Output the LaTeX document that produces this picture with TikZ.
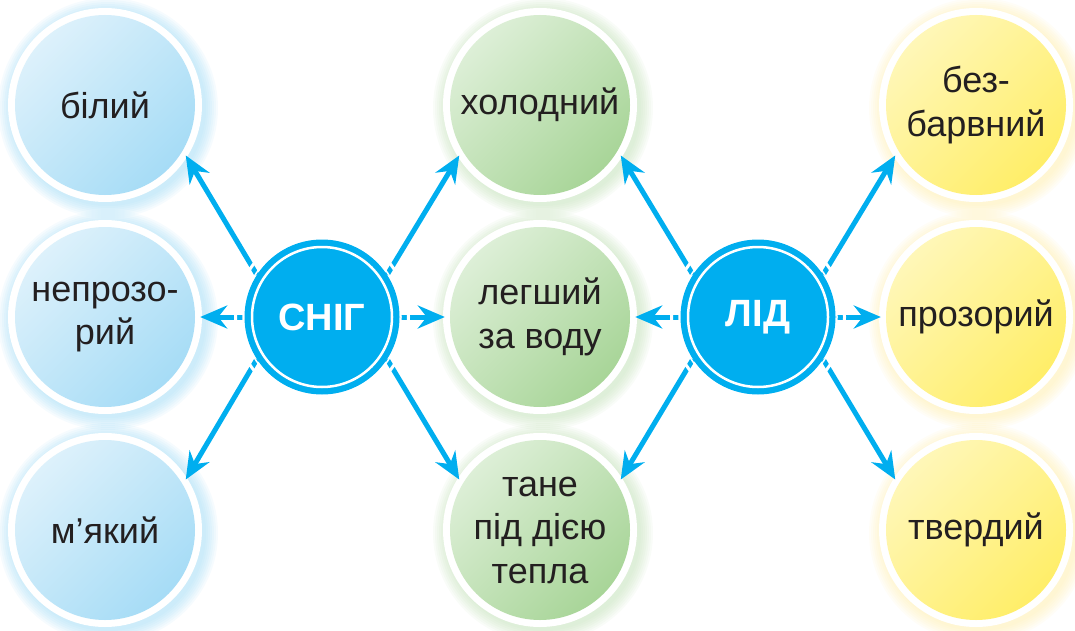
\documentclass[tikz,border=0pt]{standalone}
\usepackage{fontspec}
\setmainfont{Liberation Sans}
\usetikzlibrary{arrows.meta}
\definecolor{hubcyan}{HTML}{00AEEF}
\definecolor{txt}{HTML}{231F20}
\definecolor{bluelight}{HTML}{DDF1FB}
\definecolor{bluedark}{HTML}{A6DCF6}
\definecolor{blueglow}{HTML}{8AD2F3}
\definecolor{greenlight}{HTML}{DDEFD7}
\definecolor{greendark}{HTML}{A8D598}
\definecolor{greenglow}{HTML}{B3D9A6}
\definecolor{yellowlight}{HTML}{FFF7B8}
\definecolor{yellowdark}{HTML}{FFEE68}
\definecolor{yellowglow}{HTML}{FFE999}
\newcommand\Sat[6]{%
  \foreach \rr in {110,108,...,98} {\fill[#5,opacity=0.08,shift={(3,3)}] (#2) circle[radius=\rr pt];}
  \fill[white] (#2) circle[radius=97pt];
  \shade[top color=#3,bottom color=#4,shading angle=45] (#2) circle[radius=90pt];
  \node[sat] (#1) at (#2) {#6};
}
\begin{document}
\begin{tikzpicture}[x=1pt,y=-1pt,
  sat/.style={circle,minimum size=190pt,inner sep=0pt,align=center,text=txt,
    font=\fontsize{36}{43.5}\selectfont},
  hub/.style={circle,fill=hubcyan,minimum size=155pt,inner sep=0pt,text=white,
    font=\bfseries\fontsize{38}{40}\selectfont},
  arr/.style={hubcyan,line width=5pt,-{Stealth[length=27pt,width=23pt,inset=9pt]}}]
\useasboundingbox (0,0) rectangle (1075,631);
% satellites
\Sat{bil}{105,105}{bluelight}{bluedark}{blueglow}{білий}
\Sat{nep}{105,317}{bluelight}{bluedark}{blueglow}{непрозо-\\рий}
\Sat{myak}{105,530}{bluelight}{bluedark}{blueglow}{м’який}
\Sat{hol}{540,105}{greenlight}{greendark}{greenglow}{холодний}
\Sat{leg}{540,317}{greenlight}{greendark}{greenglow}{легший\\за воду}
\Sat{tane}{540,530}{greenlight}{greendark}{greenglow}{тане\\під дією\\тепла}
\Sat{bez}{976,105}{yellowlight}{yellowdark}{yellowglow}{без-\\барвний}
\Sat{proz}{976,317}{yellowlight}{yellowdark}{yellowglow}{прозорий}
\Sat{tverd}{976,530}{yellowlight}{yellowdark}{yellowglow}{твердий}
% hubs
\node[hub] (snow) at (322,317) {СНІГ};
\node[hub] (ice) at (758,317) {ЛІД};
% arrows
\draw[arr] (snow.147) -- (bil.-32);
\draw[arr] (snow.west) -- (nep.east);
\draw[arr] (snow.-147) -- (myak.32);
\draw[arr] (snow.33) -- (hol.212);
\draw[arr] (snow.east) -- (leg.west);
\draw[arr] (snow.-33) -- (tane.148);
\draw[arr] (ice.147) -- (hol.-32);
\draw[arr] (ice.west) -- (leg.east);
\draw[arr] (ice.-147) -- (tane.32);
\draw[arr] (ice.33) -- (bez.212);
\draw[arr] (ice.east) -- (proz.west);
\draw[arr] (ice.-33) -- (tverd.148);
% hub rings and gaps
\foreach \h in {snow,ice} {
  \draw[white,line width=2.5pt] (\h.center) circle[radius=70pt];
  \draw[white,line width=1.5pt] (\h.center) circle[radius=79pt];
  \draw[white,line width=3pt] (\h.center) circle[radius=86.5pt];
}
\end{tikzpicture}
\end{document}
